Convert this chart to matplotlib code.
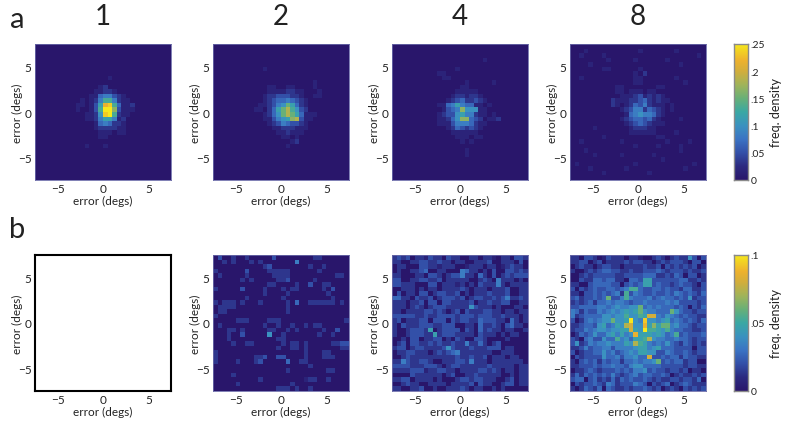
#!/usr/bin/env python3
# heatmaps of error distributions, set sizes 1, 2, 4, 8
import matplotlib
matplotlib.use('Agg')
import matplotlib.pyplot as plt
import numpy as np
from matplotlib.colors import LinearSegmentedColormap

plt.rcParams['font.family'] = 'Lato'
plt.rcParams['axes.unicode_minus'] = True

set_sizes = ['1', '2', '4', '8']
top_ticks = [0, .05, .1, .15, .2, .25]
top_tick_labels = ['0', '.05', '.1', '.15', '.2', '.25']
bottom_ticks = [0, .05, .1]
bottom_tick_labels = ['0', '.05', '.1']
top_max = .25
bottom_max = .1

# hex levels 0-f per row (15 = colour scale maximum), short rows end in zeros
a1 = ['', '', '', '', '', '', '',
      '0000000000 0000001', '',
      '0000000000 000012',
      '0000000000 0001122 1',
      '0000000000 0011455321',
      '0000000000 1012588521 1',
      '0000000001 10137de841 12',
      '0000000001 00138ffa31 11',
      '0000000000 01126ef821 1',
      '0000000000 0112577512',
      '0000000000 0001454221',
      '0000000000 0001222211',
      '0000000000 0000111011',
      '0000000000 000011', '',
      '0000000000 010001']
a2 = ['', '', '', '', '',
      '0000000000 01', '', '',
      '0000000000 0000000000 001',
      '0000000000 0011001100 0010',
      '0000000000 0011112211 0001',
      '0000000000 0122333221 0011',
      '0000000000 0123445432 1',
      '0000000000 1123 569742 1',
      '0000000001 1024 79b863 2',
      '0000000000 0124 69b974 1110',
      '0000000000 0113 567ab3 11',
      '0000000000 0012 354332 1',
      '0000000000 0001 122211 1',
      '0000000000 0000 112111',
      '0000000000 0000 011010',
      '0000000000 0000 000120',
      '0000000000 0000 0010']
a3 = ['', '', '',
      '0000000000 0000000000 1', '',
      '0000000000 0000 1',
      '0000000000 11',
      '0000000000 011',
      '0000000000 0000001000 0010',
      '0000000000 0000011',
      '0000000000 0000111110',
      '0000000000 0001221221',
      '0000000000 0012342232 1',
      '0000000000 1145 754411 01',
      '0000000000 0134 5a6661 1',
      '0000000000 1233 675521 1010',
      '0000000000 1124 6aa432 0112',
      '0000000000 1113 555421 1',
      '0000000000 0012 432321',
      '0000000000 0001 111110',
      '0000000000 0000 111011',
      '0000000000 0000 010100', '',
      '0000000000 000000 1',
      '0000000000 000000 1']
a4 = ['0000000000 0000000000 0000000000',
      '0001000000 0000010000 0001000000',
      '0010000100 0000000000 0000000010',
      '0000000010 0000100000 0100000000',
      '0000100000 0000000000 0000100000',
      '0000000110 0000010000 0000000000',
      '0000000000 0000102000 0000000000',
      '0010000000 0000110000 0001000000',
      '0000000000 0000110000 0000010000',
      '0000000000 1100000001 1000000000',
      '0000000000 1101110110 0000000000',
      '0000000000 0111231212 1000000000',
      '0000000002 1112234212 1100000000',
      '0000000002 1012435211 1010000000',
      '0000000000 0123552432 1010000000',
      '0000000000 0014565542 1000000000',
      '0000000000 0123443421 0000100000',
      '0000000000 0012343211 1000000000',
      '0000010000 0001222110 0000000000',
      '0000000000 0001111110 0001000000',
      '0000000100 0000000001 1000000000',
      '0010000000 0100000000 0100001000',
      '0000000000 0000100001 0000100000',
      '0001000000 0000000000 0000100000',
      '0000010000 0100000010 0000000000',
      '0000000000 0000000000 1000000000',
      '0100000000 0000100000 0000000100',
      '0000100000 0010000000 0000010000',
      '0000000100 0000000100 0000000000',
      '0000000000 0000000000 0000000000']
b2 = ['0300200200 0003000000 0022000000',
      '0020200020 2000000050 0000000000',
      '0000000000 0230000000 0200200000',
      '2000000300 0022222000 0002000000',
      '0200000200 0002222000 0000000220',
      '0000002020 0000223000 0020000000',
      '0000000000 0022000020 0300220000',
      '2000003000 0200020220 0000203000',
      '0000000000 0200002000 0000020000',
      '0000000200 0000020000 0000002000',
      '2022202000 2000002040 0222222020',
      '0222200000 0000002000 0000000000',
      '0220000000 0000002000 0000000000',
      '2000000000 0000000000 0000000000',
      '0000022200 0022200000 0000000002',
      '0200000000 0200200200 2022000000',
      '0002202000 0022002020 0000200300',
      '0002003000 0060020000 0002002000',
      '0002000000 0000220000 0000000000',
      '0000200220 0000020220 2000002233',
      '0000000000 0000200220 2000000022',
      '2000000000 0000000000 2000220000',
      '2000000002 2300330000 2000222000',
      '2000020002 3000004002 2000000000',
      '0000000000 0000000000 0200000000',
      '0000000000 0000002000 0000022000',
      '0000200000 0000000000 0000000000',
      '0000000000 2000000000 1220020000',
      '0000020000 0000000200 0000000000',
      '0000000000 0000222020 0200000000']
b3 = ['2323022132 2032200220 2210220332',
      '2200223322 3220220022 2300222030',
      '0220003322 1222001222 0220123220',
      '0200223400 2200054220 2030033232',
      '2200022033 2023352204 2030232333',
      '3300223322 3022222002 3205222020',
      '3322200033 0222120203 2225202222',
      '0022202022 0222232022 2022230022',
      '0302203302 3322302022 2322230022',
      '4422032230 2333230233 2232352232',
      '2220223033 0332222302 2322330022',
      '2220232023 3322222632 2202000220',
      '2202222332 3202303222 3322022022',
      '3333322322 3333233323 3322322202',
      '2302223303 3303233224 3332204202',
      '2032223332 2333002204 2232034220',
      '2002333270 2333303204 2322022002',
      '2002333227 2333222203 2220202200',
      '0020330223 3020320033 2000020000',
      '0230332232 3223225224 2023000000',
      '2330233222 2363222322 2333022000',
      '0223322202 3234522222 2200222000',
      '0023222222 2222322322 3022202200',
      '2253223320 0222332522 2022222220',
      '3333222333 2023322222 2322222022',
      '2222333122 3322022223 3232022022',
      '0000322222 2023002232 2222002022',
      '2233022220 2000233233 2220023022',
      '0023220022 2202222303 2200233022',
      '2200223002 0022232022 0020200000']
b4 = ['2203320132 2202210023 2023226303',
      '2233023022 2232332202 3233320330',
      '0232202332 2022223223 0323232302',
      '2002323443 3223223334 3233323223',
      '0023233333 2233334442 2324303302',
      '0032244344 2204437733 3333442232',
      '2200344443 3034347734 3323433203',
      '3032343344 3458843344 3433244223',
      '2203343434 5283543343 3435434324',
      '3423343493 3585444534 5443436233',
      '2323424454 5543445444 4545333323',
      '3344445545 6556694545 4443430324',
      '5424335456 5676796554 4496433233',
      '5234444665 6686687cc5 4654343322',
      '3024545669 667f65e665 6745434324',
      '2234436745 76bc66d7a7 9956443233',
      '2335456656 677c76f887 6854433223',
      '0243464467 5756d77767 6458343334',
      '3204533644 8564778b65 5445443233',
      '3623545565 5576b87545 4643243232',
      '2235344553 5555677567 4443333033',
      '3023344645 3456577663 3543343233',
      '0323333644 5355644c33 4344243322',
      '2034342434 4244545569 3434423300',
      '2233343445 4435664444 3333323322',
      '0223432333 4343556343 3233230220',
      '2424343435 3234534433 4302322323',
      '3440342324 2434334323 2233233240',
      '0323343254 2333543032 3402343222',
      '2024324043 2232334323 0232032323']

panel_x = [35, 213, 392, 570]
axes_w = 136
top_y = 45
bottom_y = 256
bar_x = 734
bar_w = 14
W, H = 787, 431

parula = LinearSegmentedColormap.from_list('parula_like', [
    (0.00, '#29166b'), (0.10, '#2c2a80'), (0.20, '#3350a8'), (0.30, '#3b74c4'),
    (0.40, '#3b92c0'), (0.50, '#3aa8a4'), (0.60, '#68b078'), (0.70, '#a0b45a'),
    (0.80, '#d2ae3c'), (0.88, '#eeb22e'), (1.00, '#f6e81c')])


def to_matrix(rows, vmax):
    # turn rows of hex levels into a 30x30 array of densities
    out = np.zeros((30, 30))
    for i, row in enumerate(rows):
        row = row.replace(' ', '').ljust(30, '0')[:30]
        out[i] = [int(c, 16) for c in row]
    return out / 15 * vmax


def make_axes(x, y, w, h):
    return fig.add_axes([x / W, 1 - (y + h) / H, w / W, h / H])


def style_axes(ax):
    ax.set_xlim(-7.5, 7.5)
    ax.set_ylim(-7.5, 7.5)
    ax.set_xticks([-5, 0, 5])
    ax.set_yticks([-5, 0, 5])
    ax.tick_params(length=0, labelsize=8.5, pad=2.5, colors='#222222')
    ax.set_xlabel('error (degs)', fontsize=8.5, va='center', color='#222222')
    ax.set_ylabel('error (degs)', fontsize=8.5, va='center', color='#222222')
    ax.xaxis.set_label_coords(0.5, -20 / axes_w)
    ax.yaxis.set_label_coords(-18 / axes_w, 0.5)


def draw_colorbar(y, vmax, ticks, labels):
    cax = make_axes(bar_x, y, bar_w, axes_w)
    grad = np.linspace(1, 0, 256).reshape(-1, 1)
    cax.imshow(grad, cmap=parula, vmin=0, vmax=1, aspect='auto',
               extent=[0, 1, 0, vmax])
    cax.set_xticks([])
    cax.yaxis.tick_right()
    cax.set_yticks(ticks)
    cax.set_yticklabels(labels)
    cax.tick_params(length=0, labelsize=7.5, pad=2, colors='#222222')
    for s in cax.spines.values():
        s.set_color('#8a8a8a')
        s.set_linewidth(1)
    fig.text(776 / W, 1 - (y + axes_w / 2) / H, 'freq. density', rotation=90,
             fontsize=9, ha='center', va='center', color='#222222')


fig = plt.figure(figsize=(W / 100, H / 100), dpi=100)

# top row
for x, rows, title in zip(panel_x, [a1, a2, a3, a4], set_sizes):
    ax = make_axes(x, top_y, axes_w, axes_w)
    ax.imshow(to_matrix(rows, top_max), cmap=parula, vmin=0, vmax=top_max,
              extent=[-7.5, 7.5, -7.5, 7.5], aspect='auto', interpolation='nearest')
    style_axes(ax)
    for s in ax.spines.values():
        s.set_color('#6a6aa8')
        s.set_linewidth(0.6)
    fig.text((x + axes_w / 2) / W, 1 - 17 / H, title, fontsize=20, ha='center',
             va='center', color='#222222')

# bottom row, first panel has no data
ax = make_axes(panel_x[0], bottom_y, axes_w, axes_w)
style_axes(ax)
for s in ax.spines.values():
    s.set_color('black')
    s.set_linewidth(1.5)

for x, rows in zip(panel_x[1:], [b2, b3, b4]):
    ax = make_axes(x, bottom_y, axes_w, axes_w)
    ax.imshow(to_matrix(rows, bottom_max), cmap=parula, vmin=0, vmax=bottom_max,
              extent=[-7.5, 7.5, -7.5, 7.5], aspect='auto', interpolation='nearest')
    style_axes(ax)
    for s in ax.spines.values():
        s.set_color('#6a6aa8')
        s.set_linewidth(0.6)

draw_colorbar(top_y, top_max, top_ticks, top_tick_labels)
draw_colorbar(bottom_y, bottom_max, bottom_ticks, bottom_tick_labels)

fig.text(17 / W, 1 - 20 / H, 'a', fontsize=21, ha='center', va='center', color='#222222')
fig.text(17 / W, 1 - 230 / H, 'b', fontsize=21, ha='center', va='center', color='#222222')

plt.savefig('out.png', dpi=100, facecolor='white')
plt.close()
